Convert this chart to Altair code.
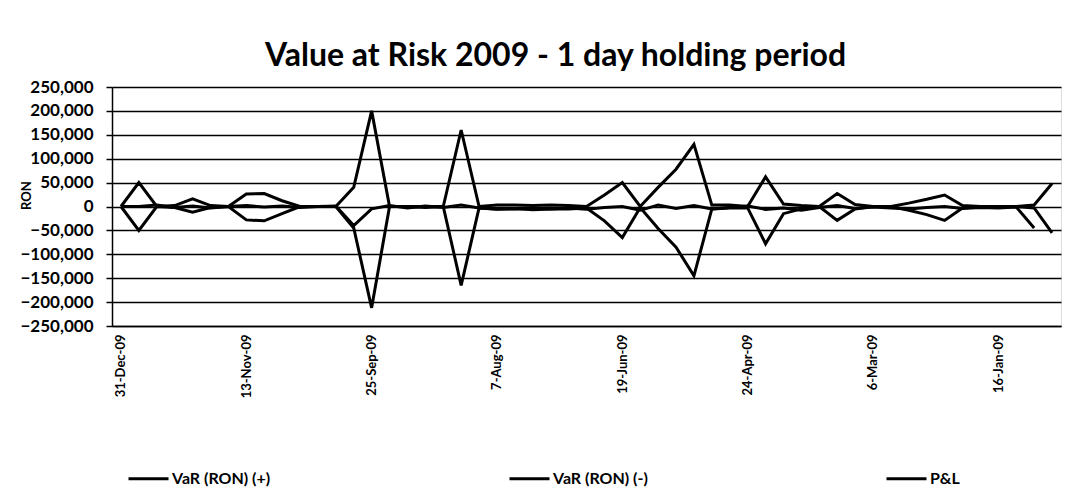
import altair as alt
import pandas as pd

CATS = [
    "31-Dec-09", "24-Dec-09", "18-Dec-09", "11-Dec-09", "4-Dec-09", "27-Nov-09", "20-Nov-09",
    "13-Nov-09", "6-Nov-09", "30-Oct-09", "23-Oct-09", "16-Oct-09", "9-Oct-09", "2-Oct-09",
    "25-Sep-09", "18-Sep-09", "11-Sep-09", "4-Sep-09", "28-Aug-09", "21-Aug-09", "14-Aug-09",
    "7-Aug-09", "31-Jul-09", "24-Jul-09", "17-Jul-09", "10-Jul-09", "3-Jul-09", "26-Jun-09",
    "19-Jun-09", "12-Jun-09", "5-Jun-09", "29-May-09", "22-May-09", "15-May-09", "8-May-09",
    "24-Apr-09", "17-Apr-09", "10-Apr-09", "3-Apr-09", "27-Mar-09", "20-Mar-09", "13-Mar-09",
    "6-Mar-09", "27-Feb-09", "20-Feb-09", "13-Feb-09", "6-Feb-09", "30-Jan-09", "23-Jan-09",
    "16-Jan-09", "9-Jan-09", "8-Jan-09", "5-Jan-09",
]

VAR_POS = [
    0, 50000, 0, 2000, 16000, 2000, 0, 26000, 27000, 12000,
    0, 0, 0, 40000, 200000, 0, 0, 0, 0, 160000,
    0, 3000, 3000, 2000, 3000, 2000, 0, 24000, 50000, 0,
    40000, 78000, 130000, 3000, 3000, 0, 62000, 5000, 2000, 0,
    27000, 4000, 0, 0, 7000, 15000, 24000, 2000, 0, 0,
    0, 3000, 48000,
]

VAR_NEG = [
    0, -50000, 0, -2000, -12000, -2000, 0, -28000, -30000, -15000,
    0, 0, 0, -45000, -212000, 0, 0, -2000, 0, -165000,
    -3000, -5000, -5000, -4000, -5000, -5000, -3000, -30000, -65000, -2000,
    -46000, -85000, -145000, -5000, -3000, -3000, -78000, -15000, -5000, 0,
    -29000, -5000, 0, 0, -8000, -17000, -29000, -3000, 0, -2000,
    0, -3000, -55000,
]

PNL = [
    0, 0, 3000, -2000, 1000, -3000, 0, 2000, -1000, 1000,
    -2000, 0, 1000, -40000, -5000, 2000, -3000, 1000, -2000, 3000,
    -3000, -6000, -4000, -7000, -5000, -3000, -6000, -2000, 0, -8000,
    3000, -4000, 2000, -5000, -2000, 1000, -6000, -3000, -8000, -2000,
    2000, -4000, -1000, -3000, -5000, -2000, 0, -4000, -2000, -3000,
    -1000, -45000, None,
]

SERIES = ["VaR (RON) (+)", "VaR (RON) (-)", "P&L"]
Y_TICKS = [-250000, -200000, -150000, -100000, -50000, 0, 50000, 100000, 150000, 200000, 250000]
X_LABELS = [CATS[i] for i in range(0, len(CATS), 7)]

rows = []
for name, vals in zip(SERIES, [VAR_POS, VAR_NEG, PNL]):
    for i, (c, v) in enumerate(zip(CATS, vals)):
        if v is None:
            continue
        rows.append({"date": c, "value": v, "series": name, "order": i})
df = pd.DataFrame(rows)

FONT = "Lato"

chart = alt.Chart(df).mark_line().encode(
    x=alt.X("date:N", sort=CATS,
            scale=alt.Scale(type="point", padding=0.5),
            axis=alt.Axis(values=X_LABELS, labelAngle=-90, labelFont=FONT, labelFontSize=13,
                          labelFontWeight="bold", labelColor="black", labelPadding=8,
                          ticks=False, grid=False, domain=True, domainColor="black",
                          domainWidth=1.5, title=None)),
    y=alt.Y("value:Q",
            scale=alt.Scale(domain=[-250000, 250000], nice=False),
            axis=alt.Axis(values=Y_TICKS, format=",.0f", labelFont=FONT, labelFontSize=17,
                          labelFontWeight="bold", labelColor="black", labelPadding=13,
                          tickColor="black", tickSize=6, tickWidth=1.5,
                          domainColor="black", domainWidth=1.5,
                          grid=True, gridColor="black", gridWidth=1.5, gridOpacity=1,
                          title="RON", titleFont=FONT, titleFontSize=13, titleFontWeight="bold",
                          titleColor="black", titleX=-86, titleY=108, titleAngle=-90,
                          titleAlign="center", titleBaseline="middle")),
    color=alt.Color("series:N",
                    scale=alt.Scale(domain=SERIES, range=["black", "black", "black"]),
                    legend=alt.Legend(title=None, orient="none", legendX=15, legendY=370,
                                      direction="horizontal", symbolType="stroke",
                                      symbolSize=1600, symbolStrokeWidth=3, labelOffset=2,
                                      labelFont=FONT, labelFontSize=16, labelFontWeight="bold",
                                      labelColor="black", columnPadding=232)),
    strokeWidth=alt.StrokeWidth("series:N",
                                scale=alt.Scale(domain=SERIES, range=[3, 3, 2]),
                                legend=None),
    order="order:Q",
).properties(
    width=949,
    height=239,
    title=alt.TitleParams("Value at Risk 2009 - 1 day holding period", font=FONT,
                          fontSize=32, fontWeight="bold", color="black",
                          anchor="middle", dx=-31, offset=5),
    autosize=alt.AutoSizeParams(type="none"),
    padding={"left": 104, "top": 79, "right": 3, "bottom": 168},
).configure_view(stroke=None).configure(background="white")

chart.save("out.html", embed_options={"renderer": "svg", "actions": False})
